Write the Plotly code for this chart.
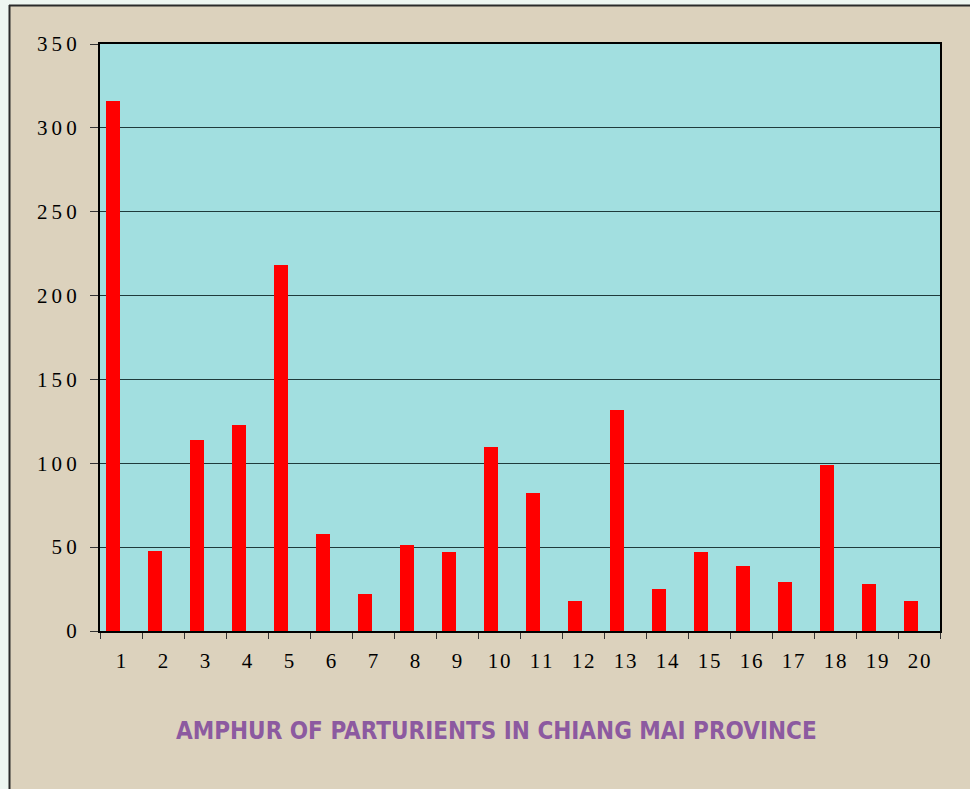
import plotly.graph_objects as go

categories = [str(i) for i in range(1, 21)]
values = [316, 48, 114, 123, 218, 58, 22, 51, 47, 110, 82, 18, 132, 25, 47, 39, 29, 99, 28, 18]
y_ticks = [0, 50, 100, 150, 200, 250, 300, 350]
title_text = "AMPHUR OF PARTURIENTS IN CHIANG MAI PROVINCE"

W, H = 970, 789
ML, MR, MT, MB = 100, 30, 44, 158
PW, PH = W - ML - MR, H - MT - MB

def px(x):
    return (x - ML) / PW

def py(y):
    return (H - MB - y) / PH

def spaced(s, sep):
    return sep.join(list(s))

serif = "Liberation Serif, Times New Roman, serif"

fig = go.Figure()
fig.add_trace(go.Bar(
    x=categories, y=values,
    marker=dict(color="#ff0000", line=dict(width=0)),
    width=0.33, offset=-0.35,
    showlegend=False,
))

fig.update_layout(
    width=W, height=H,
    margin=dict(l=ML, r=MR, t=MT, b=MB, pad=0),
    paper_bgcolor="#dcd2bd",
    plot_bgcolor="#a2dfe0",
    bargap=0,
    xaxis=dict(
        type="category",
        tickvals=categories,
        ticktext=[spaced(c, "\u200a") for c in categories],
        showline=True, linecolor="black", linewidth=2, mirror=True,
        ticks="outside", ticklen=6, tickcolor="#333", tickwidth=1,
        tickson="boundaries",
        showgrid=False,
        tickfont=dict(family=serif, size=21, color="black"),
        ticklabelstandoff=10,
    ),
    yaxis=dict(
        range=[0, 350],
        tickvals=y_ticks,
        ticktext=[spaced(str(v), "\u2009") for v in y_ticks],
        showline=True, linecolor="black", linewidth=2, mirror=True,
        ticks="outside", ticklen=8, tickcolor="#333", tickwidth=1,
        showgrid=True, gridcolor="#1f3b3b", gridwidth=1,
        zeroline=False,
        tickfont=dict(family=serif, size=21, color="black"),
        ticklabelstandoff=9,
    ),
)

fig.add_annotation(
    text=title_text, xref="paper", yref="paper",
    x=px(496), y=py(731), xanchor="center", yanchor="middle",
    showarrow=False,
    font=dict(family="DejaVu Sans Condensed, sans-serif", size=24, color="#8c5aa0", weight="bold"),
)

# outer frame decoration
fig.add_shape(type="rect", xref="paper", yref="paper", x0=px(0), x1=px(W), y0=py(5), y1=py(0),
              fillcolor="#eef6f1", line=dict(width=0), layer="above")
fig.add_shape(type="rect", xref="paper", yref="paper", x0=px(0), x1=px(9), y0=py(H), y1=py(0),
              fillcolor="#eef6f1", line=dict(width=0), layer="above")
fig.add_shape(type="line", xref="paper", yref="paper", x0=px(9), x1=px(W), y0=py(5.5), y1=py(5.5),
              line=dict(color="#2b2b2b", width=2), layer="above")
fig.add_shape(type="line", xref="paper", yref="paper", x0=px(9.5), x1=px(9.5), y0=py(H), y1=py(5),
              line=dict(color="#2b2b2b", width=2), layer="above")

fig.write_html(
    "out.html",
    config={"displayModeBar": False},
    post_script="document.body.style.margin='0';document.body.style.overflow='hidden';",
)
